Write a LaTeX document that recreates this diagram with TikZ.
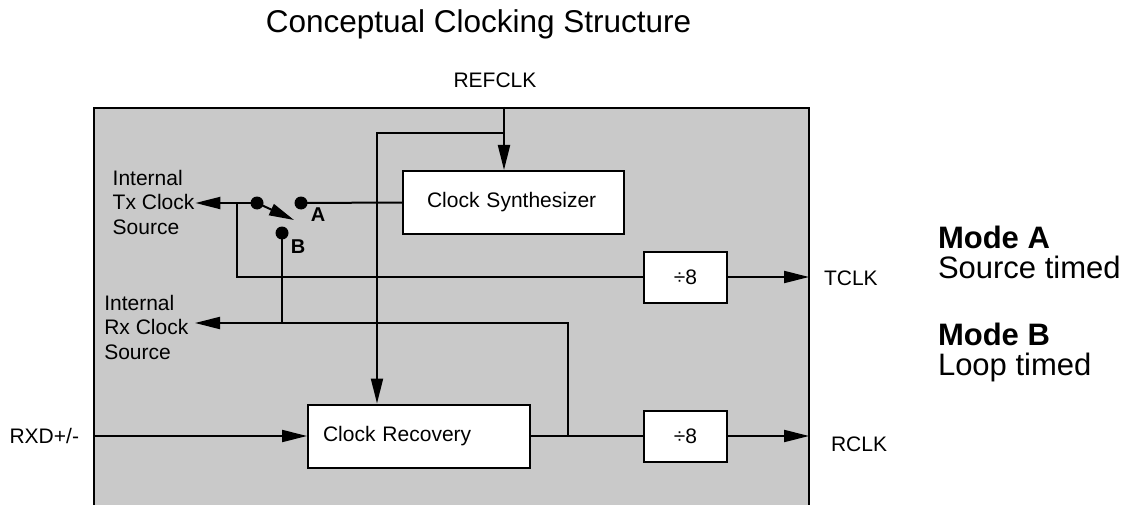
\documentclass[tikz,border=0pt]{standalone}
\usepackage{fontspec}
\setmainfont{Liberation Sans}
\usetikzlibrary{arrows.meta}
\tikzset{
  blk/.style={draw,line width=2pt,fill=white,minimum height=63pt},
  lbl/.style={font=\fontsize{21}{24.5}\selectfont,inner sep=0pt},
  big/.style={font=\fontsize{31}{29.5}\selectfont,inner sep=0pt,align=left},
}
\begin{document}
\begin{tikzpicture}[x=1pt,y=-1pt,>={Triangle[length=25pt,width=12pt]},line width=2pt]
  \useasboundingbox (0,0) rectangle (1126,505);
  \node[draw,fill=black!21,anchor=north west,minimum width=715pt,minimum height=430pt,inner sep=0pt] (chip) at (93,107) {};
  \node[big,anchor=base,font=\fontsize{31.5}{36}\selectfont] (title) at (478.5,33) {Conceptual Clocking Structure};
  \node[lbl,anchor=base] (refclk) at (495,88) {REFCLK};
  % blocks
  \node[blk,lbl,inner xsep=24pt,text width=173pt,align=left] (synth) at (513.5,202.5) {Clock Synthesizer};
  \node[blk,lbl,inner xsep=15pt,text width=192pt,align=left] (recov) at (419,436) {Clock Recovery};
  \node[blk,lbl,minimum width=83pt,minimum height=51pt] (div1) at (685.5,277) {÷8};
  \node[blk,lbl,minimum width=83pt,minimum height=51pt] (div2) at (685.5,436) {÷8};
  % labels
  \node[lbl,align=left,anchor=west] (txsrc) at (111.7,202) {Internal\\Tx Clock\\Source};
  \node[lbl,align=left,anchor=west] (rxsrc) at (103.3,327) {Internal\\Rx Clock\\Source};
  \node[lbl,anchor=base west] (tclk) at (823,285) {TCLK};
  \node[lbl,anchor=base west] (rclk) at (830,451) {RCLK};
  \node[lbl,anchor=base east] (rxd) at (80,443) {RXD+/-};
  \node[big,anchor=north west] (modea) at (937,225.5) {\textbf{Mode A}\\Source timed};
  \node[big,anchor=north west] (modeb) at (937,322.5) {\textbf{Mode B}\\Loop timed};
  % switch
  \coordinate (pivot) at (257,203);
  \coordinate (contA) at (301,203);
  \coordinate (contB) at (282,233);
  \coordinate (swtip) at (294,220);
  \foreach \p in {pivot,contA,contB} \fill (\p) circle (6.5pt);
  \node[font=\fontsize{20}{24}\selectfont\bfseries,inner sep=0pt] (labA) at (318,215) {A};
  \node[font=\fontsize{20}{24}\selectfont\bfseries,inner sep=0pt] (labB) at (298,247) {B};
  \draw[->] (pivot) -- (swtip);
  % connectors
  \coordinate (ref) at (504,107);
  \coordinate (rbend) at (377,133);
  \coordinate (txbr) at (237,203);
  \coordinate (rxbr) at (568,436);
  \coordinate (rxtip) at (195,323);
  \draw[->] (ref) -- (ref |- synth.north);
  \draw[->] (ref |- rbend) -- (rbend) -- (rbend |- recov.north);
  \draw (synth.west) -- (contA);
  \draw[->] (pivot) -- (pivot -| txsrc.east);
  \draw (txbr) |- (div1.west);
  \draw[->,shorten >=1pt] (div1.east) -- (div1.east -| chip.east);
  \draw[->] (chip.west |- recov.west) -- (recov.west);
  \draw (recov.east) -- (div2.west);
  \draw[->,shorten >=1pt] (div2.east) -- (div2.east -| chip.east);
  \draw[->] (rxbr) |- (rxtip);
  \draw (contB) -- (contB |- rxtip);
\end{tikzpicture}
\end{document}
